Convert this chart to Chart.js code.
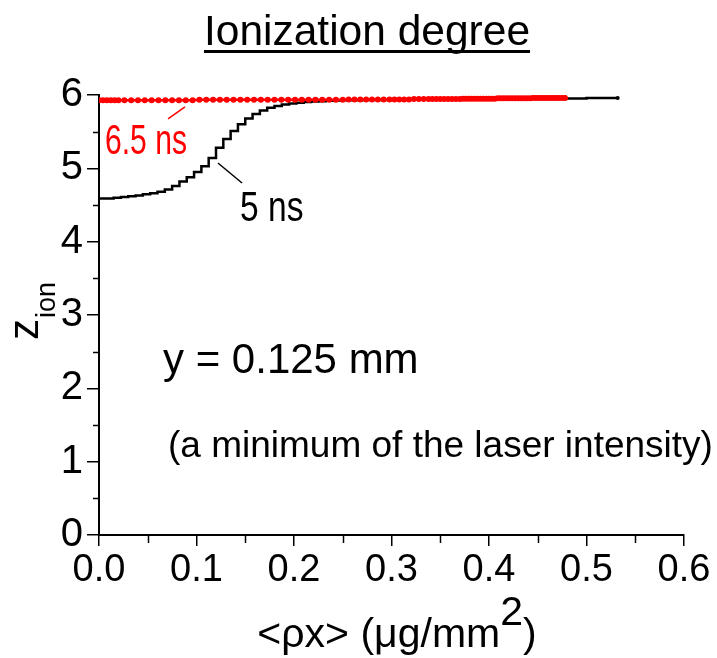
<!DOCTYPE html>
<html>
<head>
<meta charset="utf-8">
<script src="https://cdn.jsdelivr.net/npm/chart.js@4.4.1/dist/chart.umd.min.js"></script>
<style>
  html, body { margin: 0; padding: 0; background: #fff; }
  canvas { display: block; }
</style>
</head>
<body>
<canvas id="c" width="717" height="658"></canvas>
<script>
// ---- data ----
const xTickLabels = ['0.0', '0.1', '0.2', '0.3', '0.4', '0.5', '0.6'];
const yTickLabels = ['0', '1', '2', '3', '4', '5', '6'];

// 5 ns curve (stair-stepped), rho*x in ug/mm^2 vs z_ion
const blackX = [0, 0.0075, 0.015, 0.0225, 0.03, 0.0375, 0.045, 0.0525, 0.06, 0.0675,
  0.075, 0.0825, 0.09, 0.0975, 0.105, 0.1125, 0.12, 0.1275, 0.135, 0.1425,
  0.15, 0.1575, 0.165, 0.1725, 0.18, 0.1875, 0.195, 0.2025, 0.21, 0.2175,
  0.225, 0.2325, 0.24, 0.25, 0.27, 0.30, 0.35, 0.40, 0.45, 0.50, 0.532];
const blackY = [4.59, 4.59, 4.60, 4.61, 4.62, 4.63, 4.645, 4.66, 4.68, 4.71,
  4.76, 4.82, 4.88, 4.95, 5.03, 5.14, 5.28, 5.40, 5.51, 5.60,
  5.68, 5.74, 5.79, 5.825, 5.85, 5.87, 5.885, 5.895, 5.905, 5.91,
  5.915, 5.92, 5.925, 5.928, 5.933, 5.938, 5.943, 5.948, 5.953, 5.958, 5.96];

// 6.5 ns curve (with dot markers)
const redX = [0, 0.004, 0.008, 0.012, 0.016, 0.020,
  0.026, 0.033, 0.040, 0.047, 0.054, 0.061, 0.068, 0.075, 0.082, 0.089, 0.096,
  0.103, 0.110, 0.117, 0.124, 0.131, 0.138, 0.145, 0.152, 0.159, 0.166, 0.173,
  0.180, 0.187, 0.194, 0.201, 0.208, 0.215, 0.222, 0.229, 0.236, 0.243, 0.250,
  0.256, 0.262, 0.268, 0.274, 0.280, 0.286, 0.292, 0.298,
  0.303, 0.308, 0.313, 0.318, 0.323, 0.328, 0.333, 0.338,
  0.342, 0.346, 0.350, 0.354, 0.358, 0.362, 0.366, 0.370,
  0.373, 0.376, 0.379, 0.382, 0.385, 0.388, 0.391, 0.394, 0.397, 0.400, 0.403,
  0.406, 0.409, 0.412, 0.415, 0.418, 0.421, 0.424, 0.427, 0.430, 0.433, 0.436,
  0.439, 0.442, 0.445, 0.448, 0.451, 0.454, 0.457, 0.460, 0.463, 0.466, 0.469,
  0.472, 0.475, 0.478];
const redY = [5.93, 5.93, 5.93, 5.93, 5.93, 5.93,
  5.93, 5.93, 5.93, 5.93, 5.93, 5.93, 5.93, 5.93, 5.93, 5.93, 5.93,
  5.935, 5.935, 5.935, 5.935, 5.935, 5.935, 5.935, 5.935, 5.935, 5.935, 5.935,
  5.935, 5.935, 5.935, 5.935, 5.935, 5.935, 5.935, 5.935, 5.935, 5.935, 5.935,
  5.94, 5.94, 5.94, 5.94, 5.94, 5.94, 5.94, 5.94,
  5.94, 5.94, 5.94, 5.94, 5.945, 5.945, 5.945, 5.945,
  5.945, 5.945, 5.945, 5.945, 5.945, 5.945, 5.945, 5.945,
  5.95, 5.95, 5.95, 5.95, 5.95, 5.95, 5.95, 5.95, 5.95, 5.95, 5.95,
  5.95, 5.955, 5.955, 5.955, 5.955, 5.955, 5.955, 5.955, 5.955, 5.955, 5.955,
  5.955, 5.955, 5.96, 5.96, 5.96, 5.96, 5.96, 5.96, 5.96, 5.96, 5.96,
  5.96, 5.96, 5.96];

// annotation anchors in data coordinates
const redPointer = [[0.0708, 5.673], [0.0882, 5.837]];
const blackPointer = [[0.122, 5.073], [0.1467, 4.80]];

const FONT = '"Liberation Sans", Arial, sans-serif';

function condensedText(ctx, text, x, y, size, sx, color) {
  ctx.save();
  ctx.translate(x, y);
  ctx.scale(sx, 1);
  ctx.font = size + 'px ' + FONT;
  ctx.fillStyle = color;
  ctx.textBaseline = 'alphabetic';
  ctx.textAlign = 'left';
  ctx.fillText(text, 0, 0);
  ctx.restore();
}

const extras = {
  id: 'extras',
  afterDraw(chart) {
    const ctx = chart.ctx;
    const xs = chart.scales.x, ys = chart.scales.y;
    ctx.save();
    // minor ticks
    ctx.strokeStyle = '#000';
    ctx.lineWidth = 1.5;
    for (let i = 0; i < xTickLabels.length - 1; i++) {
      const v = (i + 0.5) / 10;
      const px = Math.round(xs.getPixelForValue(v)) + 0.5;
      ctx.beginPath();
      ctx.moveTo(px, xs.top);
      ctx.lineTo(px, xs.top + 8);
      ctx.stroke();
    }
    for (let i = 0; i < yTickLabels.length - 1; i++) {
      const v = i + 0.5;
      const py = Math.round(ys.getPixelForValue(v)) + 0.5;
      ctx.beginPath();
      ctx.moveTo(ys.right, py);
      ctx.lineTo(ys.right - 6, py);
      ctx.stroke();
    }

    // black end marker
    const ex = xs.getPixelForValue(blackX[blackX.length - 1]);
    const ey = ys.getPixelForValue(blackY[blackY.length - 1]);
    ctx.fillStyle = '#000';
    ctx.beginPath();
    ctx.arc(ex, ey, 2, 0, Math.PI * 2);
    ctx.fill();

    // title with underline
    ctx.fillStyle = '#000';
    ctx.font = '42.5px ' + FONT;
    ctx.textAlign = 'center';
    ctx.textBaseline = 'alphabetic';
    const title = 'Ionization degree';
    const tx = 367, ty = 45;
    ctx.fillText(title, tx, ty);
    const tw = ctx.measureText(title).width;
    ctx.fillRect(tx - tw / 2, ty + 5, tw, 3);

    // pointer lines
    ctx.lineWidth = 1.5;
    ctx.strokeStyle = '#ff0000';
    ctx.beginPath();
    ctx.moveTo(xs.getPixelForValue(redPointer[0][0]), ys.getPixelForValue(redPointer[0][1]));
    ctx.lineTo(xs.getPixelForValue(redPointer[1][0]), ys.getPixelForValue(redPointer[1][1]));
    ctx.stroke();
    ctx.strokeStyle = '#000';
    ctx.beginPath();
    ctx.moveTo(xs.getPixelForValue(blackPointer[0][0]), ys.getPixelForValue(blackPointer[0][1]));
    ctx.lineTo(xs.getPixelForValue(blackPointer[1][0]), ys.getPixelForValue(blackPointer[1][1]));
    ctx.stroke();

    // series labels (condensed)
    condensedText(ctx, '6.5 ns', 105, 154, 43, 0.7, '#ff0000');
    condensedText(ctx, '5 ns', 240, 221, 43, 0.78, '#000');

    // notes
    ctx.fillStyle = '#000';
    ctx.textAlign = 'left';
    ctx.font = '42px ' + FONT;
    ctx.fillText('y = 0.125 mm', 163, 373);
    ctx.font = '37px ' + FONT;
    ctx.fillText('(a minimum of the laser intensity)', 168, 457);

    // x axis title with superscript
    ctx.font = '41px ' + FONT;
    const main = '<\u03C1x> (\u03BCg/mm';
    const sup = '2';
    const close = ')';
    const wMain = ctx.measureText(main).width;
    const wSup = ctx.measureText(sup).width;
    const wClose = ctx.measureText(close).width;
    const total = wMain + wSup + wClose;
    let cx = 397 - total / 2;
    const by = 647;
    ctx.fillText(main, cx, by);
    ctx.fillText(sup, cx + wMain, by - 22);
    ctx.fillText(close, cx + wMain + wSup, by);

    // y axis title z_ion, rotated
    ctx.save();
    ctx.translate(38, 340);
    ctx.rotate(-Math.PI / 2);
    ctx.font = '42px ' + FONT;
    ctx.fillText('z', 0, 0);
    const wz = ctx.measureText('z').width;
    ctx.font = '27px ' + FONT;
    ctx.fillText('ion', wz + 1, 17);
    ctx.restore();

    ctx.restore();
  }
};

new Chart(document.getElementById('c'), {
  type: 'scatter',
  data: {
    datasets: [
      {
        label: '6.5 ns',
        data: redX.map((x, i) => ({ x: x, y: redY[i] })),
        showLine: true,
        borderColor: '#ff0000',
        backgroundColor: '#ff0000',
        borderWidth: 2.5,
        pointRadius: 3,
        pointBorderWidth: 0,
        order: 0
      },
      {
        label: '5 ns',
        data: blackX.map((x, i) => ({ x: x, y: blackY[i] })),
        showLine: true,
        stepped: true,
        borderColor: '#000',
        borderWidth: 2.5,
        pointRadius: 0,
        order: 1
      }
    ]
  },
  options: {
    responsive: false,
    animation: false,
    devicePixelRatio: 1,
    layout: { padding: { top: 95, right: 33, left: 0, bottom: 0 } },
    plugins: { legend: { display: false }, tooltip: { enabled: false }, title: { display: false } },
    scales: {
      x: {
        type: 'linear', min: 0, max: 0.6,
        afterFit(s) { s.height = 123; },
        afterBuildTicks(s) { s.ticks = xTickLabels.map(t => ({ value: parseFloat(t) })); },
        ticks: {
          callback: (v, i) => xTickLabels[i],
          font: { family: FONT, size: 38 }, color: '#000', padding: 2,
          maxRotation: 0, autoSkip: false
        },
        grid: { display: true, drawOnChartArea: false, drawTicks: true, tickLength: 11, color: '#000', lineWidth: 1.5 },
        border: { display: true, color: '#000', width: 2 }
      },
      y: {
        type: 'linear', min: 0, max: 6,
        afterFit(s) { s.width = 99; },
        afterBuildTicks(s) { s.ticks = yTickLabels.map(t => ({ value: parseFloat(t) })); },
        ticks: {
          callback: (v, i) => yTickLabels[i],
          font: { family: FONT, size: 40 }, color: '#000', padding: 4,
          autoSkip: false
        },
        grid: { display: true, drawOnChartArea: false, drawTicks: true, tickLength: 12, color: '#000', lineWidth: 1.5 },
        border: { display: true, color: '#000', width: 2 }
      }
    }
  },
  plugins: [extras]
});
</script>
</body>
</html>
